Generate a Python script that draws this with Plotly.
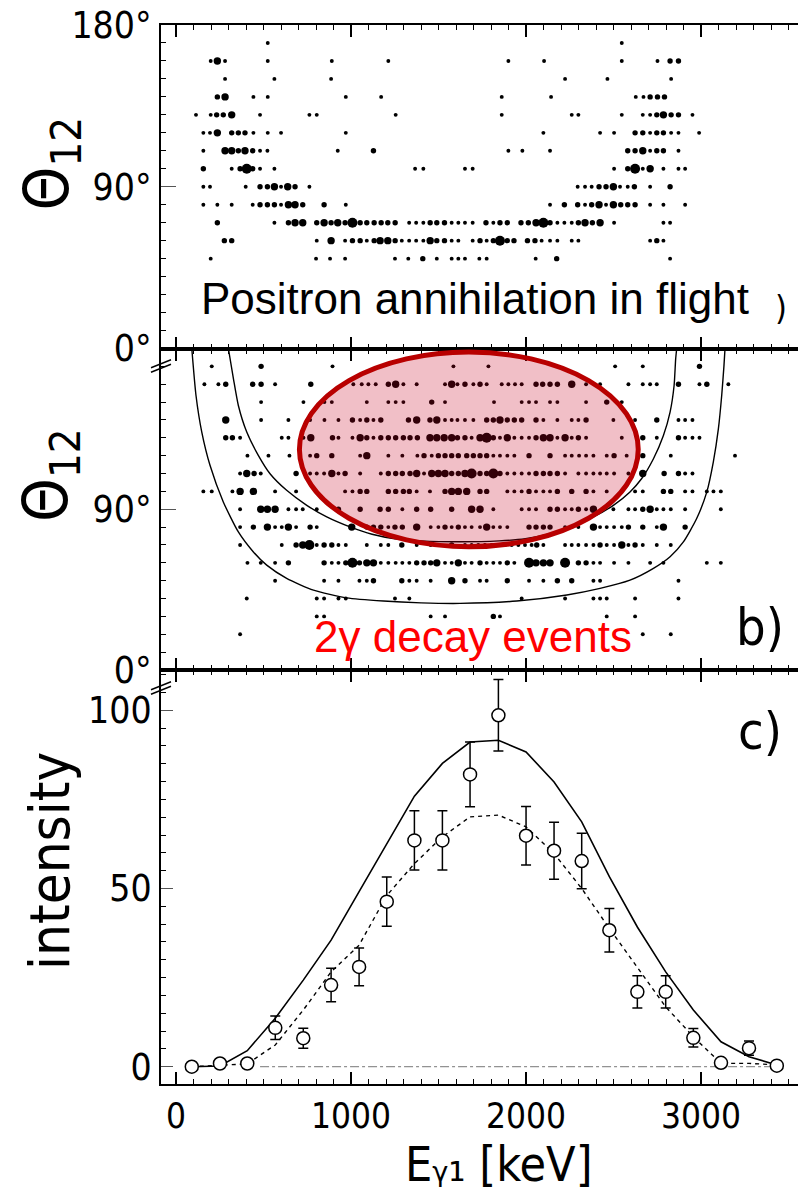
import plotly.graph_objects as go

# ---------------- data ----------------
# panel a: positron annihilation in flight, rows of (theta_12 [deg], [(E_gamma1 [keV], size class)])
DOTS_A = [
    (170, [(524,'s'),(2547,'s')]),
    (160, [(198,'s'),(236,'L'),(280,'s'),(524,'s'),(890,'s'),(1213,'s'),(1899,'s'),(2103,'s'),(2547,'s'),(2751,'s'),(2823,'m'),(2871,'m')]),
    (150, [(280,'s'),(562,'s'),(886,'s'),(2223,'s'),(2465,'s'),(2829,'s')]),
    (140, [(236,'m'),(280,'L'),(442,'s'),(524,'s'),(970,'s'),(1172,'s'),(1861,'s'),(2143,'s'),(2627,'s'),(2671,'s'),(2709,'m'),(2751,'m'),(2791,'m')]),
    (130, [(114,'s'),(198,'s'),(232,'m'),(270,'m'),(318,'L'),(480,'s'),(762,'s'),(804,'s'),(1255,'s'),(1861,'s'),(2261,'s'),(2299,'s'),(2547,'s'),(2667,'s'),(2709,'s'),(2747,'m'),(2785,'L'),(2829,'m'),(2871,'m'),(2951,'s')]),
    (120, [(156,'s'),(194,'s'),(236,'L'),(318,'m'),(356,'m'),(394,'m'),(442,'s'),(524,'s'),(600,'s'),(970,'s'),(2099,'s'),(2423,'s'),(2503,'s'),(2623,'m'),(2667,'m'),(2709,'s'),(2747,'m'),(2785,'m'),(2829,'s'),(2871,'s'),(2989,'s')]),
    (110, [(156,'s'),(280,'L'),(318,'L'),(356,'m'),(394,'L'),(438,'m'),(480,'s'),(522,'s'),(924,'s'),(1128,'m'),(1899,'s'),(1979,'s'),(2137,'s'),(2581,'m'),(2623,'m'),(2667,'L'),(2709,'s'),(2747,'m'),(2785,'m'),(2871,'s')]),
    (100, [(156,'m'),(318,'s'),(366,'m'),(404,'X'),(438,'m'),(480,'s'),(562,'s'),(1366,'s'),(1413,'s'),(1651,'s'),(1695,'s'),(2503,'s'),(2581,'m'),(2623,'X'),(2667,'s'),(2709,'L'),(2785,'s'),(2871,'s'),(2909,'s')]),
    (90, [(156,'s'),(194,'s'),(398,'s'),(480,'m'),(522,'m'),(562,'L'),(600,'s'),(638,'L'),(680,'m'),(762,'s'),(2295,'s'),(2337,'s'),(2375,'s'),(2417,'m'),(2457,'m'),(2499,'L'),(2537,'s'),(2581,'s'),(2619,'m'),(2709,'s'),(2823,'m')]),
    (80, [(156,'s'),(236,'s'),(318,'s'),(438,'s'),(480,'m'),(522,'m'),(562,'m'),(600,'s'),(642,'L'),(680,'L'),(724,'m'),(846,'m'),(970,'s'),(2137,'s'),(2219,'m'),(2295,'m'),(2337,'s'),(2375,'m'),(2417,'L'),(2457,'s'),(2499,'L'),(2541,'m'),(2581,'m'),(2623,'m'),(2709,'s'),(2785,'s'),(2909,'s')]),
    (70, [(236,'m'),(562,'s'),(642,'m'),(680,'L'),(724,'L'),(804,'m'),(846,'L'),(886,'m'),(924,'L'),(966,'m'),(1008,'X'),(1052,'m'),(1090,'m'),(1132,'m'),(1172,'m'),(1210,'m'),(1252,'m'),(1332,'s'),(1372,'s'),(1413,'s'),(1452,'m'),(1490,'m'),(1534,'m'),(1575,'s'),(1613,'s'),(1651,'s'),(1695,'s'),(1771,'m'),(1813,'s'),(1851,'m'),(1893,'m'),(1971,'m'),(2013,'m'),(2057,'L'),(2099,'X'),(2137,'m'),(2179,'s'),(2219,'s'),(2261,'s'),(2299,'m'),(2337,'L'),(2379,'m'),(2423,'L'),(2503,'s'),(2785,'s'),(2823,'s')]),
    (60, [(276,'m'),(318,'m'),(804,'s'),(886,'L'),(966,'s'),(1008,'m'),(1052,'m'),(1090,'s'),(1132,'m'),(1166,'L'),(1210,'L'),(1252,'m'),(1290,'s'),(1332,'s'),(1372,'s'),(1413,'s'),(1452,'L'),(1490,'m'),(1534,'m'),(1575,'s'),(1613,'s'),(1695,'s'),(1737,'m'),(1775,'s'),(1813,'m'),(1851,'X'),(1893,'m'),(1931,'m'),(2008,'m'),(2051,'m'),(2089,'s'),(2137,'s'),(2179,'s'),(2261,'s'),(2299,'s'),(2709,'s'),(2747,'m'),(2785,'s')]),
    (50, [(198,'s'),(800,'s'),(880,'s'),(966,'s'),(1251,'s'),(1327,'s'),(1410,'m'),(1490,'s'),(1575,'s'),(1613,'s'),(1651,'s'),(1733,'s'),(1775,'s'),(2055,'s'),(2175,'m'),(2823,'s')]),
]

# panel b: 2-gamma decay events
DOTS_B = [
    (170, [(204,'s'),(486,'m'),(894,'s'),(1585,'s'),(1785,'s'),(2509,'s'),(2667,'s'),(2991,'m')]),
    (160, [(162,'s'),(242,'s'),(284,'m'),(438,'m'),(486,'m'),(566,'s'),(770,'m'),(1013,'s'),(1061,'s'),(1099,'s'),(1141,'s'),(1213,'m'),(1255,'L'),(1299,'s'),(1375,'s'),(1537,'s'),(1575,'L'),(1608,'s'),(1651,'m'),(1699,'s'),(1737,'m'),(1775,'s'),(1861,'s'),(1899,'s'),(1937,'s'),(1975,'s'),(2057,'m'),(2095,'m'),(2137,'m'),(2179,'m'),(2261,'L'),(2343,'s'),(2423,'s'),(2585,'s'),(2667,'s'),(2709,'s'),(2747,'s'),(2871,'m'),(2991,'s'),(3033,'m'),(3156,'s')]),
    (150, [(486,'s'),(728,'s'),(848,'s'),(890,'s'),(1090,'s'),(1213,'s'),(1255,'s'),(1299,'s'),(1461,'m'),(1537,'s'),(1817,'s'),(1975,'s'),(2017,'s'),(2057,'s'),(2137,'s'),(2179,'s'),(2343,'s'),(2461,'m'),(2547,'s')]),
    (140, [(284,'L'),(486,'s'),(642,'s'),(766,'s'),(848,'s'),(928,'s'),(1008,'m'),(1052,'s'),(1090,'m'),(1128,'s'),(1170,'m'),(1328,'m'),(1375,'L'),(1451,'m'),(1490,'L'),(1537,'s'),(1575,'s'),(1608,'s'),(1651,'s'),(1699,'s'),(1775,'m'),(1813,'m'),(1851,'L'),(1893,'m'),(1933,'m'),(1975,'m'),(2057,'m'),(2099,'s'),(2179,'s'),(2261,'s'),(2299,'s'),(2343,'m'),(2499,'s'),(2623,'s'),(2747,'m'),(2871,'s'),(2909,'s'),(2951,'s')]),
    (130, [(284,'m'),(322,'m'),(366,'s'),(604,'s'),(642,'s'),(728,'s'),(770,'L'),(894,'m'),(928,'s'),(1008,'s'),(1052,'L'),(1090,'m'),(1128,'s'),(1170,'m'),(1213,'m'),(1255,'m'),(1299,'m'),(1337,'m'),(1379,'m'),(1451,'L'),(1490,'L'),(1532,'L'),(1575,'L'),(1608,'m'),(1651,'m'),(1689,'s'),(1737,'L'),(1775,'X'),(1813,'m'),(1851,'s'),(1893,'L'),(1933,'s'),(1975,'s'),(2017,'s'),(2057,'m'),(2099,'L'),(2137,'L'),(2179,'s'),(2223,'L'),(2261,'s'),(2299,'m'),(2343,'s'),(2547,'s'),(2667,'m'),(2747,'s'),(2871,'m'),(2909,'s'),(2951,'s'),(2991,'s')]),
    (120, [(408,'s'),(528,'s'),(648,'s'),(766,'s'),(804,'m'),(890,'m'),(1052,'s'),(1090,'L'),(1213,'s'),(1293,'s'),(1379,'s'),(1417,'m'),(1461,'s'),(1499,'m'),(1537,'m'),(1575,'m'),(1613,'m'),(1661,'m'),(1699,'m'),(1737,'m'),(1775,'m'),(1813,'s'),(1851,'s'),(1893,'s'),(1933,'s'),(2017,'m'),(2137,'m'),(2223,'s'),(2261,'s'),(2303,'s'),(2343,'s'),(2385,'s'),(2461,'s'),(2503,'m'),(2575,'s'),(2667,'m'),(2827,'s'),(3194,'s')]),
    (110, [(366,'s'),(404,'L'),(446,'m'),(484,'s'),(686,'m'),(766,'s'),(804,'s'),(846,'s'),(890,'L'),(928,'s'),(966,'m'),(1052,'s'),(1170,'s'),(1213,'m'),(1255,'m'),(1293,'m'),(1337,'m'),(1375,'L'),(1417,'s'),(1461,'L'),(1499,'L'),(1537,'L'),(1575,'m'),(1613,'m'),(1651,'L'),(1689,'X'),(1737,'m'),(1775,'m'),(1813,'X'),(1851,'m'),(1893,'s'),(1933,'s'),(1975,'s'),(2017,'s'),(2057,'m'),(2099,'m'),(2137,'m'),(2179,'m'),(2223,'s'),(2299,'s'),(2343,'s'),(2385,'s'),(2423,'s'),(2461,'s'),(2503,'s'),(2585,'s'),(2667,'L'),(2789,'m'),(2871,'m'),(2909,'s'),(2951,'s')]),
    (100, [(156,'s'),(204,'s'),(322,'s'),(366,'L'),(442,'L'),(566,'s'),(686,'s'),(966,'s'),(1008,'s'),(1052,'m'),(1090,'m'),(1213,'m'),(1255,'m'),(1299,'m'),(1333,'m'),(1375,'s'),(1451,'s'),(1537,'m'),(1575,'L'),(1613,'L'),(1661,'L'),(1737,'m'),(1775,'m'),(1893,'s'),(1933,'s'),(1975,'s'),(2017,'m'),(2057,'s'),(2099,'s'),(2137,'s'),(2179,'m'),(2261,'m'),(2343,'m'),(2385,'s'),(2461,'s'),(2623,'s'),(2667,'s'),(2785,'m'),(2827,'m'),(2909,'s'),(2951,'s'),(3033,'s'),(3071,'s'),(3113,'s')]),
    (90, [(366,'s'),(484,'L'),(522,'L'),(566,'L'),(642,'s'),(686,'s'),(724,'s'),(804,'s'),(928,'m'),(1052,'m'),(1166,'m'),(1213,'m'),(1293,'s'),(1375,'m'),(1455,'m'),(1575,'m'),(1689,'L'),(1737,'L'),(1813,'s'),(1975,'s'),(2017,'s'),(2057,'s'),(2137,'m'),(2179,'m'),(2223,'s'),(2261,'s'),(2299,'m'),(2343,'s'),(2385,'L'),(2499,'s'),(2585,'s'),(2623,'s'),(2667,'m'),(2709,'L'),(2747,'s'),(2785,'s'),(2827,'s'),(2909,'s'),(3113,'s')]),
    (80, [(366,'s'),(442,'m'),(522,'L'),(566,'s'),(604,'s'),(642,'L'),(686,'s'),(766,'m'),(804,'s'),(1004,'L'),(1090,'m'),(1128,'m'),(1170,'m'),(1213,'s'),(1251,'m'),(1293,'m'),(1375,'L'),(1455,'s'),(1499,'s'),(1537,'m'),(1575,'s'),(1613,'m'),(1651,'s'),(1689,'s'),(1737,'s'),(1775,'L'),(1813,'s'),(1851,'s'),(1893,'s'),(2017,'m'),(2057,'m'),(2099,'m'),(2137,'m'),(2223,'s'),(2261,'s'),(2299,'s'),(2385,'L'),(2423,'s'),(2461,'s'),(2503,'s'),(2547,'s'),(2585,'m'),(2667,'m'),(2747,'s'),(2785,'L'),(2909,'m')]),
    (70, [(366,'s'),(604,'s'),(686,'m'),(724,'L'),(762,'X'),(804,'s'),(846,'m'),(890,'m'),(928,'s'),(970,'s'),(1090,'s'),(1170,'s'),(1213,'s'),(1290,'m'),(1375,'s'),(1455,'s'),(1575,'m'),(1651,'s'),(1689,'s'),(1727,'s'),(1765,'s'),(1803,'s'),(1841,'s'),(1880,'s'),(1918,'s'),(1956,'s'),(1994,'s'),(2032,'s'),(2061,'m'),(2099,'s'),(2223,'s'),(2261,'s'),(2299,'s'),(2343,'s'),(2385,'s'),(2423,'m'),(2461,'s'),(2503,'s'),(2547,'L'),(2585,'s'),(2623,'m'),(2667,'s'),(2747,'s'),(2827,'s')]),
    (60, [(408,'s'),(484,'s'),(566,'s'),(642,'m'),(846,'m'),(890,'s'),(928,'s'),(970,'m'),(1008,'X'),(1048,'m'),(1090,'L'),(1128,'L'),(1170,'s'),(1213,'s'),(1255,'s'),(1293,'s'),(1333,'s'),(1375,'m'),(1417,'m'),(1455,'m'),(1490,'L'),(1537,'s'),(1575,'s'),(1613,'L'),(1651,'s'),(1689,'s'),(1737,'m'),(1775,'s'),(1813,'s'),(1851,'s'),(1893,'m'),(1933,'s'),(2017,'X'),(2057,'L'),(2099,'L'),(2137,'L'),(2223,'X'),(2299,'m'),(2343,'m'),(2385,'s'),(2423,'s'),(2503,'s'),(2585,'s'),(2709,'s'),(2785,'s'),(3033,'s'),(3113,'s')]),
    (50, [(566,'s'),(846,'s'),(928,'s'),(1048,'s'),(1090,'s'),(1128,'m'),(1290,'m'),(1333,'s'),(1375,'s'),(1455,'s'),(1575,'L'),(1651,'m'),(1737,'s'),(1775,'s'),(1893,'m'),(2017,'s'),(2099,'s'),(2179,'m'),(2261,'m'),(2385,'s'),(2423,'s'),(2871,'s')]),
    (40, [(404,'s'),(804,'s'),(846,'s'),(928,'s'),(970,'s'),(1251,'s'),(1333,'s'),(1975,'s'),(2223,'s'),(2385,'s'),(2423,'s'),(2461,'s'),(2623,'s'),(2871,'s')]),
    (30, [(804,'s'),(846,'s'),(1455,'s'),(1537,'s'),(1813,'m'),(1851,'s'),(2461,'s'),(2623,'s')]),
    (20, [(366,'s'),(2667,'s'),(2827,'s')]),
]

# kinematic limits in panel b
OUTER_E = [90, 114, 147, 194, 270, 356, 442, 518, 632, 785, 975, 1185, 1400, 1623, 1947, 2233, 2423, 2594, 2728, 2823, 2899, 2975, 3033, 3070, 3099, 3118, 3131, 3137]
OUTER_T = [180, 153.7, 133.2, 114.6, 94.1, 77.3, 66.1, 58.7, 51.3, 44.7, 40.4, 38.6, 37.6, 37.3, 38.6, 42.0, 45.7, 50.3, 56.9, 63.4, 71.7, 84.8, 99.7, 116.4, 135.0, 153.7, 170.4, 180]
INNER_E = [299, 328, 356, 404, 470, 537, 632, 747, 861, 994, 1120, 1250, 1400, 1623, 1846, 1996, 2126, 2252, 2385, 2499, 2594, 2661, 2728, 2785, 2823, 2846, 2855, 2861]
INNER_T = [180, 163.0, 148.1, 133.2, 120.2, 109.9, 100.6, 92.2, 85.7, 80.1, 76.0, 73.5, 72.3, 71.8, 72.3, 73.5, 76.0, 80.1, 85.7, 92.2, 99.7, 107.2, 118.3, 131.3, 144.4, 159.3, 174.2, 180]

# selection ellipse (centre E, centre theta, half-width E, half-height theta)
ELL_E, ELL_T, ELL_RE, ELL_RT = 1673, 123.5, 968, 54.5

# panel c: intensity
E_BINS = [90, 251, 407, 567, 727, 886, 1046, 1204, 1362, 1522, 1680, 1842, 2000, 2160, 2318, 2476, 2636, 2798, 2956, 3114, 3274, 3433]
INTENSITY = [0, 0.9, 0.9, 10.9, 8.0, 22.9, 28.0, 46.3, 63.5, 63.5, 82.0, 98.6, 64.8, 60.6, 57.7, 38.3, 21.0, 21.0, 8.1, 1.1, 5.2, 0.3]
INT_ERR = [0, 0, 0, 3.3, 2.8, 4.7, 5.3, 6.9, 8.3, 8.3, 9.1, 10.0, 8.2, 8.0, 7.8, 6.1, 4.5, 4.5, 2.6, 0, 2.0, 0]
SOLID = [0, 0.2, 4.5, 13.6, 24.3, 35.5, 49.1, 62.6, 75.9, 85.1, 91.1, 91.6, 88.3, 79.9, 68.7, 53.3, 39.2, 26.6, 15.9, 7.0, 2.8, 0.5]
DASHED = [0, 0.3, 0.8, 6.1, 15.9, 26.6, 34.1, 48.0, 57.0, 64.5, 70.1, 70.6, 67.3, 59.8, 50.0, 38.8, 28.0, 16.8, 8.4, 0.95, 0.95, 0.5]
BASE_E = [480, 3460]
BASE_I = [0, 0]

X_RANGE = [-86, 3554]
SIZE_PX = {'s': 3.9, 'm': 5.4, 'L': 7.4, 'X': 10}

# ---------------- figure ----------------
DIN = "DejaVu Sans Condensed, DejaVu Sans, sans-serif"
ARIAL = "Liberation Sans, Arial, sans-serif"
W, H = 798, 1191
ML, MT = 161, 25
P_TOP, AB, BC, P_BOT = 25, 348.5, 670, 1084
PH = P_BOT - P_TOP
TICK_FS = 37

def ydom(top, bot):
    return [(P_BOT - bot) / PH, (P_BOT - top) / PH]

def px_x(p):
    return (p - ML) / (W - ML)

def px_y(p):
    return (P_BOT - p) / PH

fig = go.Figure()

def dots_trace(rows, xa, ya):
    xs, ys, ss = [], [], []
    for theta, pts in rows:
        for e, c in pts:
            xs.append(e); ys.append(theta); ss.append(SIZE_PX[c])
    return go.Scatter(x=xs, y=ys, mode='markers', xaxis=xa, yaxis=ya,
                      marker=dict(size=ss, color='black', opacity=1, line=dict(width=0)),
                      showlegend=False, hoverinfo='skip')

fig.add_trace(dots_trace(DOTS_A, 'x3', 'y3'))
fig.add_trace(dots_trace(DOTS_B, 'x2', 'y2'))
fig.add_trace(go.Scatter(x=OUTER_E, y=OUTER_T, mode='lines', xaxis='x2', yaxis='y2',
                         line=dict(color='black', width=1.4, shape='spline', smoothing=0.6), showlegend=False))
fig.add_trace(go.Scatter(x=INNER_E, y=INNER_T, mode='lines', xaxis='x2', yaxis='y2',
                         line=dict(color='black', width=1.4, shape='spline', smoothing=0.6), showlegend=False))

# panel c
fig.add_trace(go.Scatter(x=BASE_E, y=BASE_I, mode='lines', xaxis='x', yaxis='y',
                         line=dict(color='#777777', width=1, dash='dashdot'), showlegend=False))
fig.add_trace(go.Scatter(x=E_BINS, y=SOLID, mode='lines', xaxis='x', yaxis='y',
                         line=dict(color='black', width=1.6), showlegend=False))
fig.add_trace(go.Scatter(x=E_BINS, y=DASHED, mode='lines', xaxis='x', yaxis='y',
                         line=dict(color='black', width=1.4, dash='4px,4px'), showlegend=False))
ie = [i for i, v in enumerate(INT_ERR) if v > 0]
ne = [i for i, v in enumerate(INT_ERR) if v == 0]
fig.add_trace(go.Scatter(x=[E_BINS[i] for i in ie], y=[INTENSITY[i] for i in ie], mode='markers',
                         xaxis='x', yaxis='y',
                         error_y=dict(type='data', array=[INT_ERR[i] for i in ie], color='black', thickness=1.5, width=5),
                         marker=dict(symbol='circle', size=13, color='white', opacity=1, line=dict(color='black', width=1.5)),
                         showlegend=False))
fig.add_trace(go.Scatter(x=[E_BINS[i] for i in ne], y=[INTENSITY[i] for i in ne], mode='markers',
                         xaxis='x', yaxis='y',
                         marker=dict(symbol='circle', size=13, color='white', opacity=1, line=dict(color='black', width=1.5)),
                         showlegend=False))

xcommon = dict(range=X_RANGE, showline=True, linewidth=2, linecolor='black', mirror='ticks',
               ticks='inside', ticklen=12, tickwidth=1.5, tickcolor='black',
               tickmode='linear', tick0=0, dtick=1000,
               minor=dict(ticks='inside', ticklen=5, tickwidth=1.2, tickcolor='black', tickmode='linear', tick0=0, dtick=100),
               showgrid=False, zeroline=False, fixedrange=True)
ycommon = dict(showline=True, linewidth=2, linecolor='black', mirror=False,
               ticks='inside', ticklen=15, tickwidth=1.2, tickcolor='#555555',
               tickfont=dict(family=DIN, size=TICK_FS, color='black'),
               showgrid=False, zeroline=False)

fig.update_layout(
    width=W, height=H, margin=dict(l=ML, r=0, t=MT, b=H - P_BOT),
    paper_bgcolor='white', plot_bgcolor='white', showlegend=False,
    xaxis=dict(xcommon, anchor='y', showticklabels=True, tickfont=dict(family=DIN, size=35, color='black')),
    xaxis2=dict(xcommon, anchor='y2', showticklabels=False),
    xaxis3=dict(xcommon, anchor='y3', showticklabels=False),
    yaxis=dict(ycommon, domain=ydom(BC, P_BOT), range=[-4.85, 111.3], tickmode='array',
               tickvals=[0, 50, 100], ticktext=['0', '50', '100'], ticklen=12,
               minor=dict(ticks='inside', ticklen=5, tickwidth=1.2, tickcolor='black', tickmode='linear', tick0=0, dtick=5)),
    yaxis2=dict(ycommon, domain=ydom(AB, BC), range=[0, 180], tickmode='array',
                tickvals=[0, 90], ticktext=['0°', '90°'],
                minor=dict(ticks='inside', ticklen=5, tickwidth=1.2, tickcolor='black', tickmode='linear', tick0=0, dtick=10)),
    yaxis3=dict(ycommon, domain=ydom(P_TOP, AB), range=[0, 180], tickmode='array',
                tickvals=[0, 90, 180], ticktext=['0°', '90°', '180°'],
                minor=dict(ticks='inside', ticklen=5, tickwidth=1.2, tickcolor='black', tickmode='linear', tick0=0, dtick=10)),
)

# selection ellipse
fig.add_shape(type='circle', xref='x2', yref='y2',
              x0=ELL_E - ELL_RE, x1=ELL_E + ELL_RE, y0=ELL_T - ELL_RT, y1=ELL_T + ELL_RT,
              line=dict(color='#b80000', width=5), fillcolor='rgba(200,0,30,0.25)', layer='above')

# axis break marks
for yb in (366, 688):
    for off in (-2.2, 2.2):
        fig.add_shape(type='line', xref='paper', yref='paper',
                      x0=px_x(151), y0=px_y(yb + 4 + off), x1=px_x(171), y1=px_y(yb - 4 + off),
                      line=dict(color='black', width=1.5))

ann = [
    dict(text='Positron annihilation in flight', xref='x3', yref='y3', x=1709, y=28.0,
         font=dict(family=ARIAL, size=44, color='black')),
    dict(text=')', xref='x3', yref='y3', x=3457, y=22.8, font=dict(family=DIN, size=34, color='black')),
    dict(text='2γ decay events', xref='x2', yref='y2', x=1694, y=19.0,
         font=dict(family=ARIAL, size=44, color='#ff0000')),
    dict(text='b)', xref='x2', yref='y2', x=3337, y=24.1, font=dict(family=DIN, size=52, color='black')),
    dict(text='c)', xref='x', yref='y', x=3337, y=94.1, font=dict(family=DIN, size=52, color='black')),
    dict(text='Θ<sub>12</sub>', xref='paper', yref='paper', x=px_x(50), y=px_y(163.5), textangle=-90,
         font=dict(family=DIN, size=62, color='black')),
    dict(text='Θ<sub>12</sub>', xref='paper', yref='paper', x=px_x(50), y=px_y(475), textangle=-90,
         font=dict(family=DIN, size=62, color='black')),
    dict(text='intensity', xref='paper', yref='paper', x=px_x(49), y=px_y(861), textangle=-90,
         font=dict(family=DIN, size=56, color='black')),
    dict(text='Eᵧ₁ [keV]', xref='paper', yref='paper', x=px_x(498), y=px_y(1164),
         font=dict(family=DIN, size=48, color='black')),
]
for a in ann:
    a.update(showarrow=False, xanchor='center', yanchor='middle')
    fig.add_annotation(**a)

fig.write_html('out.html')
